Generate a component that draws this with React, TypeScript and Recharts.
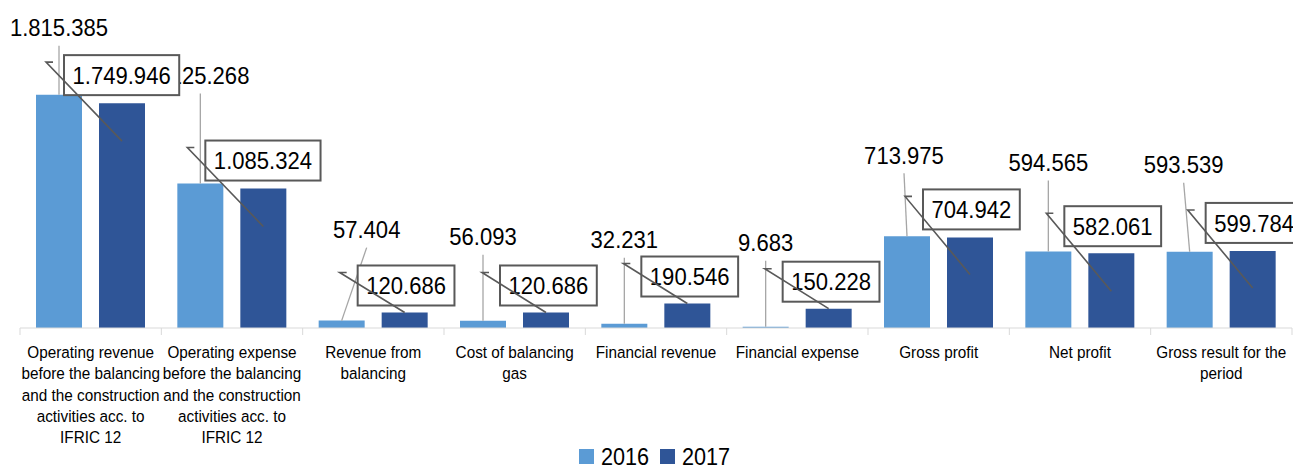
import { BarChart, Bar, XAxis, YAxis, LabelList, Legend } from 'recharts'

const categories = [
  'Operating revenue\nbefore the balancing\nand the construction\nactivities acc. to\nIFRIC 12',
  'Operating expense\nbefore the balancing\nand the construction\nactivities acc. to\nIFRIC 12',
  'Revenue from\nbalancing',
  'Cost of balancing\ngas',
  'Financial revenue',
  'Financial expense',
  'Gross profit',
  'Net profit',
  'Gross result for the\nperiod',
]
const values2016 = [1815385, 1125268, 57404, 56093, 32231, 9683, 713975, 594565, 593539]
const values2017 = [1749946, 1085324, 120686, 120686, 190546, 150228, 704942, 582061, 599784]

// callout placement (Excel-style nudged labels), relative to the bar
const notes2016 = [
  { dx: 0, rise: 67 },
  { dx: 0, rise: 108 },
  { dx: 25, rise: 91 },
  { dx: 0, rise: 84 },
  { dx: 0, rise: 84 },
  { dx: 0, rise: 84 },
  { dx: -3, rise: 81 },
  { dx: 0, rise: 89 },
  { dx: -6, rise: 87 },
]
const notes2017 = [
  { drop: 38, dx: -76, dy: -79 },
  { drop: 38, dx: -76, dy: -79 },
  { drop: 0, dx: -65, dy: -40 },
  { drop: 0, dx: -64, dy: -40 },
  { drop: 0, dx: -64, dy: -40 },
  { drop: 0, dx: -64, dy: -40 },
  { drop: 37, dx: -65, dy: -78 },
  { drop: 38, dx: -65, dy: -78 },
  { drop: 37, dx: -65, dy: -78 },
]

const data = categories.map((name, i) => ({
  name,
  y2016: values2016[i],
  y2017: values2017[i],
}))

const W = 1293
const H = 468
const LEFT = 20
const RIGHT = 1
const PLOT_BOTTOM = 328
const BAND = (W - LEFT - RIGHT) / categories.length
const FONT = '"Liberation Sans", Arial, sans-serif'
const VAL_SIZE = 24
const SX = 0.92

const fmt = (v: number) => String(v).replace(/\B(?=(\d{3})+(?!\d))/g, '.')
const textWidth = (s: string) =>
  s.split('').reduce((a, c) => a + (c === '.' ? 0.278 : 0.556), 0) * VAL_SIZE * SX

function barBox(props: any) {
  const vb = props.viewBox || {}
  const x = Number(props.x ?? vb.x)
  const y = Number(props.y ?? vb.y)
  const w = Number(props.width ?? vb.width)
  const h = Number(props.height ?? vb.height)
  return { cx: x + w / 2, top: Math.min(y, y + h) }
}

function Callout2016(props: any) {
  const { cx, top } = barBox(props)
  const n = notes2016[props.index]
  if (!n) return null
  const lx = cx + n.dx
  const ly = top - n.rise
  return (
    <g>
      <line x1={lx} y1={ly + 18} x2={cx} y2={top} stroke="#a6a6a6" strokeWidth={1.3} />
      <g transform={`translate(${lx},${ly}) scale(${SX},1)`}>
        <text x={0} y={8.6} textAnchor="middle" fontSize={VAL_SIZE} fontFamily={FONT} fill="#000">
          {fmt(props.value)}
        </text>
      </g>
    </g>
  )
}

function Callout2017(props: any) {
  const { cx, top } = barBox(props)
  const n = notes2017[props.index]
  if (!n) return null
  const ex = cx
  const ey = top + n.drop
  const tx = ex + n.dx
  const ty = ey + n.dy
  const label = fmt(props.value)
  const bw = textWidth(label) + 17
  const bx = tx + 18
  const by = ty - 7
  return (
    <g>
      <rect x={bx} y={by} width={bw} height={40} fill="#fff" stroke="#595959" strokeWidth={2} />
      <g transform={`translate(${bx + bw / 2},${by + 20}) scale(${SX},1)`}>
        <text x={0} y={8.6} textAnchor="middle" fontSize={VAL_SIZE} fontFamily={FONT} fill="#000">
          {label}
        </text>
      </g>
      <polyline
        points={`${tx + 7},${ty} ${tx},${ty} ${ex},${ey}`}
        fill="none"
        stroke="#595959"
        strokeWidth={1.6}
      />
    </g>
  )
}

function CategoryTick(props: any) {
  const { x, payload, index } = props
  const lines = String(payload.value).split('\n')
  const left = x - BAND / 2
  return (
    <g>
      <line x1={left} y1={PLOT_BOTTOM} x2={left} y2={PLOT_BOTTOM + 7} stroke="#d9d9d9" />
      {index === categories.length - 1 && (
        <line x1={left + BAND} y1={PLOT_BOTTOM} x2={left + BAND} y2={PLOT_BOTTOM + 7} stroke="#d9d9d9" />
      )}
      <g transform={`translate(${x},${PLOT_BOTTOM + 30}) scale(0.9,1)`}>
        <text textAnchor="middle" fontSize={17} fontFamily={FONT} fill="#000">
          {lines.map((l, i) => (
            <tspan key={i} x={0} dy={i === 0 ? 0 : 21.3}>
              {l}
            </tspan>
          ))}
        </text>
      </g>
    </g>
  )
}

function LegendBox(props: any) {
  const items = props.payload || []
  return (
    <div
      style={{
        display: 'flex',
        justifyContent: 'center',
        paddingTop: 9,
        paddingLeft: 8,
        fontFamily: FONT,
        fontSize: 23,
        lineHeight: '21px',
        color: '#000',
      }}
    >
      {items.map((it: any) => (
        <div key={it.value} style={{ display: 'flex', alignItems: 'flex-start', marginRight: 12 }}>
          <span style={{ width: 15, height: 15, background: it.color, marginTop: 2, marginRight: 7 }} />
          <span style={{ display: 'inline-block', transform: 'scaleX(0.94)', transformOrigin: 'left top', width: 47 }}>
            {it.value}
          </span>
        </div>
      ))}
    </div>
  )
}

export default function App() {
  return (
    <div style={{ position: 'absolute', left: 0, top: 0, width: W, height: H, background: '#fff' }}>
      <BarChart
        width={W}
        height={H}
        data={data}
        margin={{ top: 71, right: RIGHT, left: LEFT, bottom: 0 }}
        barGap={17}
      >
        <XAxis
          dataKey="name"
          interval={0}
          height={110}
          axisLine={{ stroke: '#d9d9d9' }}
          tickLine={false}
          tick={<CategoryTick />}
        />
        <YAxis hide domain={[0, 2000000]} />
        <Legend verticalAlign="bottom" height={30} content={<LegendBox />} />
        <Bar dataKey="y2016" name="2016" fill="#5b9bd5" barSize={46} isAnimationActive={false}>
          <LabelList dataKey="y2016" content={Callout2016} />
        </Bar>
        <Bar dataKey="y2017" name="2017" fill="#2f5597" barSize={46} isAnimationActive={false}>
          <LabelList dataKey="y2017" content={Callout2017} />
        </Bar>
      </BarChart>
    </div>
  )
}
